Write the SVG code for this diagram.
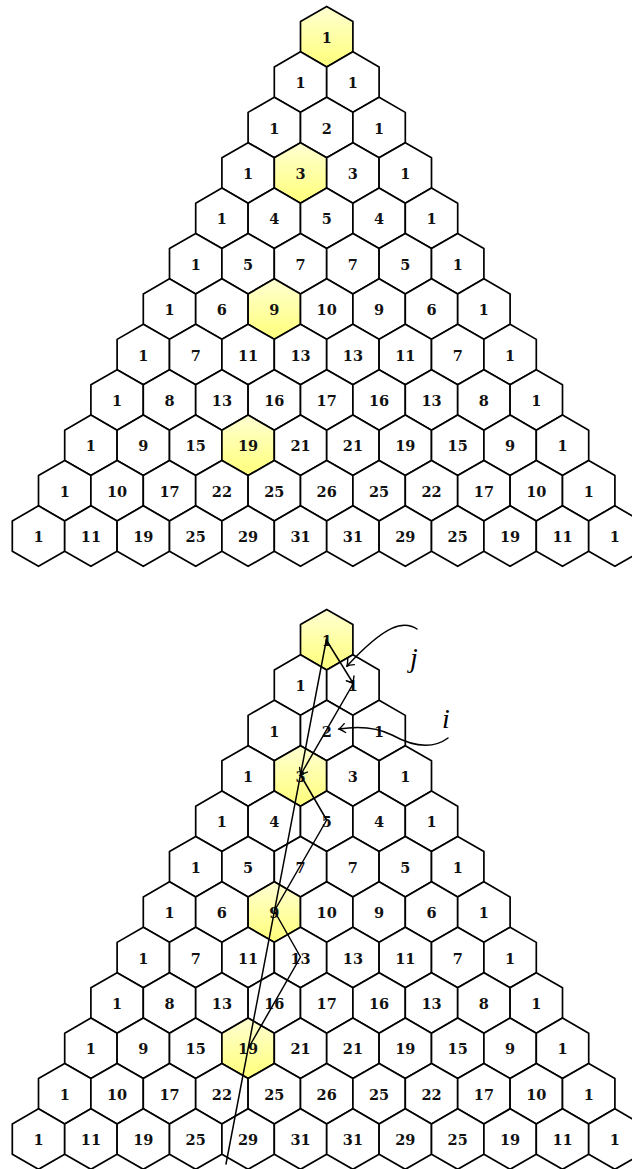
<svg xmlns="http://www.w3.org/2000/svg" xmlns:xlink="http://www.w3.org/1999/xlink" width="632" height="1169" viewBox="0 0 632 1169">
<style>
.c use{fill:#fff;stroke:#000;stroke-width:1.7;stroke-linejoin:round}
.c.y use{fill:url(#yg)}
.c text{font-family:"DejaVu Serif",serif;font-weight:bold;font-size:14.5px;text-anchor:middle;fill:#111}
.ln{fill:none;stroke:#000;stroke-width:1.5;stroke-linecap:round;stroke-linejoin:round}
.lbl{font-family:"Liberation Serif",serif;font-style:italic;font-size:28px;fill:#000}
</style>
<defs>
<path id="h" d="M0,-30.25L26.2,-15.12L26.2,15.12L0,30.25L-26.2,15.12L-26.2,-15.12Z"/>
<linearGradient id="yg" x1="0" y1="0" x2="0" y2="1">
<stop offset="0" stop-color="#ffffd2"/>
<stop offset="1" stop-color="#ffff7a"/>
</linearGradient>
<marker id="ah" viewBox="-8 -6 10 12" markerWidth="10" markerHeight="12" refX="0" refY="0" orient="auto" markerUnits="userSpaceOnUse">
<path d="M-6,-4.5Q-2,-1 0,0Q-2,1 -6,4.5" fill="none" stroke="#000" stroke-width="1.4" stroke-linecap="round"/>
</marker>
</defs>
<g id="top">
<g transform="translate(0,36.7)"><g id="t0-0" class="c y" transform="translate(326.7,0)"><use href="#h"/><text y="6">1</text></g></g>
<g transform="translate(0,82.1)"><g id="t1-0" class="c" transform="translate(300.5,0)"><use href="#h"/><text y="6">1</text></g><g id="t1-1" class="c" transform="translate(352.9,0)"><use href="#h"/><text y="6">1</text></g></g>
<g transform="translate(0,127.5)"><g id="t2-0" class="c" transform="translate(274.3,0)"><use href="#h"/><text y="6">1</text></g><g id="t2-1" class="c" transform="translate(326.7,0)"><use href="#h"/><text y="6">2</text></g><g id="t2-2" class="c" transform="translate(379.1,0)"><use href="#h"/><text y="6">1</text></g></g>
<g transform="translate(0,172.9)"><g id="t3-0" class="c" transform="translate(248.1,0)"><use href="#h"/><text y="6">1</text></g><g id="t3-1" class="c y" transform="translate(300.5,0)"><use href="#h"/><text y="6">3</text></g><g id="t3-2" class="c" transform="translate(352.9,0)"><use href="#h"/><text y="6">3</text></g><g id="t3-3" class="c" transform="translate(405.3,0)"><use href="#h"/><text y="6">1</text></g></g>
<g transform="translate(0,218.3)"><g id="t4-0" class="c" transform="translate(221.9,0)"><use href="#h"/><text y="6">1</text></g><g id="t4-1" class="c" transform="translate(274.3,0)"><use href="#h"/><text y="6">4</text></g><g id="t4-2" class="c" transform="translate(326.7,0)"><use href="#h"/><text y="6">5</text></g><g id="t4-3" class="c" transform="translate(379.1,0)"><use href="#h"/><text y="6">4</text></g><g id="t4-4" class="c" transform="translate(431.5,0)"><use href="#h"/><text y="6">1</text></g></g>
<g transform="translate(0,263.7)"><g id="t5-0" class="c" transform="translate(195.7,0)"><use href="#h"/><text y="6">1</text></g><g id="t5-1" class="c" transform="translate(248.1,0)"><use href="#h"/><text y="6">5</text></g><g id="t5-2" class="c" transform="translate(300.5,0)"><use href="#h"/><text y="6">7</text></g><g id="t5-3" class="c" transform="translate(352.9,0)"><use href="#h"/><text y="6">7</text></g><g id="t5-4" class="c" transform="translate(405.3,0)"><use href="#h"/><text y="6">5</text></g><g id="t5-5" class="c" transform="translate(457.7,0)"><use href="#h"/><text y="6">1</text></g></g>
<g transform="translate(0,309.1)"><g id="t6-0" class="c" transform="translate(169.5,0)"><use href="#h"/><text y="6">1</text></g><g id="t6-1" class="c" transform="translate(221.9,0)"><use href="#h"/><text y="6">6</text></g><g id="t6-2" class="c y" transform="translate(274.3,0)"><use href="#h"/><text y="6">9</text></g><g id="t6-3" class="c" transform="translate(326.7,0)"><use href="#h"/><text y="6">10</text></g><g id="t6-4" class="c" transform="translate(379.1,0)"><use href="#h"/><text y="6">9</text></g><g id="t6-5" class="c" transform="translate(431.5,0)"><use href="#h"/><text y="6">6</text></g><g id="t6-6" class="c" transform="translate(483.9,0)"><use href="#h"/><text y="6">1</text></g></g>
<g transform="translate(0,354.5)"><g id="t7-0" class="c" transform="translate(143.3,0)"><use href="#h"/><text y="6">1</text></g><g id="t7-1" class="c" transform="translate(195.7,0)"><use href="#h"/><text y="6">7</text></g><g id="t7-2" class="c" transform="translate(248.1,0)"><use href="#h"/><text y="6">11</text></g><g id="t7-3" class="c" transform="translate(300.5,0)"><use href="#h"/><text y="6">13</text></g><g id="t7-4" class="c" transform="translate(352.9,0)"><use href="#h"/><text y="6">13</text></g><g id="t7-5" class="c" transform="translate(405.3,0)"><use href="#h"/><text y="6">11</text></g><g id="t7-6" class="c" transform="translate(457.7,0)"><use href="#h"/><text y="6">7</text></g><g id="t7-7" class="c" transform="translate(510.1,0)"><use href="#h"/><text y="6">1</text></g></g>
<g transform="translate(0,399.9)"><g id="t8-0" class="c" transform="translate(117.1,0)"><use href="#h"/><text y="6">1</text></g><g id="t8-1" class="c" transform="translate(169.5,0)"><use href="#h"/><text y="6">8</text></g><g id="t8-2" class="c" transform="translate(221.9,0)"><use href="#h"/><text y="6">13</text></g><g id="t8-3" class="c" transform="translate(274.3,0)"><use href="#h"/><text y="6">16</text></g><g id="t8-4" class="c" transform="translate(326.7,0)"><use href="#h"/><text y="6">17</text></g><g id="t8-5" class="c" transform="translate(379.1,0)"><use href="#h"/><text y="6">16</text></g><g id="t8-6" class="c" transform="translate(431.5,0)"><use href="#h"/><text y="6">13</text></g><g id="t8-7" class="c" transform="translate(483.9,0)"><use href="#h"/><text y="6">8</text></g><g id="t8-8" class="c" transform="translate(536.3,0)"><use href="#h"/><text y="6">1</text></g></g>
<g transform="translate(0,445.3)"><g id="t9-0" class="c" transform="translate(90.9,0)"><use href="#h"/><text y="6">1</text></g><g id="t9-1" class="c" transform="translate(143.3,0)"><use href="#h"/><text y="6">9</text></g><g id="t9-2" class="c" transform="translate(195.7,0)"><use href="#h"/><text y="6">15</text></g><g id="t9-3" class="c y" transform="translate(248.1,0)"><use href="#h"/><text y="6">19</text></g><g id="t9-4" class="c" transform="translate(300.5,0)"><use href="#h"/><text y="6">21</text></g><g id="t9-5" class="c" transform="translate(352.9,0)"><use href="#h"/><text y="6">21</text></g><g id="t9-6" class="c" transform="translate(405.3,0)"><use href="#h"/><text y="6">19</text></g><g id="t9-7" class="c" transform="translate(457.7,0)"><use href="#h"/><text y="6">15</text></g><g id="t9-8" class="c" transform="translate(510.1,0)"><use href="#h"/><text y="6">9</text></g><g id="t9-9" class="c" transform="translate(562.5,0)"><use href="#h"/><text y="6">1</text></g></g>
<g transform="translate(0,490.7)"><g id="t10-0" class="c" transform="translate(64.7,0)"><use href="#h"/><text y="6">1</text></g><g id="t10-1" class="c" transform="translate(117.1,0)"><use href="#h"/><text y="6">10</text></g><g id="t10-2" class="c" transform="translate(169.5,0)"><use href="#h"/><text y="6">17</text></g><g id="t10-3" class="c" transform="translate(221.9,0)"><use href="#h"/><text y="6">22</text></g><g id="t10-4" class="c" transform="translate(274.3,0)"><use href="#h"/><text y="6">25</text></g><g id="t10-5" class="c" transform="translate(326.7,0)"><use href="#h"/><text y="6">26</text></g><g id="t10-6" class="c" transform="translate(379.1,0)"><use href="#h"/><text y="6">25</text></g><g id="t10-7" class="c" transform="translate(431.5,0)"><use href="#h"/><text y="6">22</text></g><g id="t10-8" class="c" transform="translate(483.9,0)"><use href="#h"/><text y="6">17</text></g><g id="t10-9" class="c" transform="translate(536.3,0)"><use href="#h"/><text y="6">10</text></g><g id="t10-10" class="c" transform="translate(588.7,0)"><use href="#h"/><text y="6">1</text></g></g>
<g transform="translate(0,536.1)"><g id="t11-0" class="c" transform="translate(38.5,0)"><use href="#h"/><text y="6">1</text></g><g id="t11-1" class="c" transform="translate(90.9,0)"><use href="#h"/><text y="6">11</text></g><g id="t11-2" class="c" transform="translate(143.3,0)"><use href="#h"/><text y="6">19</text></g><g id="t11-3" class="c" transform="translate(195.7,0)"><use href="#h"/><text y="6">25</text></g><g id="t11-4" class="c" transform="translate(248.1,0)"><use href="#h"/><text y="6">29</text></g><g id="t11-5" class="c" transform="translate(300.5,0)"><use href="#h"/><text y="6">31</text></g><g id="t11-6" class="c" transform="translate(352.9,0)"><use href="#h"/><text y="6">31</text></g><g id="t11-7" class="c" transform="translate(405.3,0)"><use href="#h"/><text y="6">29</text></g><g id="t11-8" class="c" transform="translate(457.7,0)"><use href="#h"/><text y="6">25</text></g><g id="t11-9" class="c" transform="translate(510.1,0)"><use href="#h"/><text y="6">19</text></g><g id="t11-10" class="c" transform="translate(562.5,0)"><use href="#h"/><text y="6">11</text></g><g id="t11-11" class="c" transform="translate(614.9,0)"><use href="#h"/><text y="6">1</text></g></g>
</g>
<g id="bottom">
<g transform="translate(0,639.7)"><g id="b0-0" class="c y" transform="translate(326.7,0)"><use href="#h"/><text y="6">1</text></g></g>
<g transform="translate(0,685.1)"><g id="b1-0" class="c" transform="translate(300.5,0)"><use href="#h"/><text y="6">1</text></g><g id="b1-1" class="c" transform="translate(352.9,0)"><use href="#h"/><text y="6">1</text></g></g>
<g transform="translate(0,730.5)"><g id="b2-0" class="c" transform="translate(274.3,0)"><use href="#h"/><text y="6">1</text></g><g id="b2-1" class="c" transform="translate(326.7,0)"><use href="#h"/><text y="6">2</text></g><g id="b2-2" class="c" transform="translate(379.1,0)"><use href="#h"/><text y="6">1</text></g></g>
<g transform="translate(0,775.9)"><g id="b3-0" class="c" transform="translate(248.1,0)"><use href="#h"/><text y="6">1</text></g><g id="b3-1" class="c y" transform="translate(300.5,0)"><use href="#h"/><text y="6">3</text></g><g id="b3-2" class="c" transform="translate(352.9,0)"><use href="#h"/><text y="6">3</text></g><g id="b3-3" class="c" transform="translate(405.3,0)"><use href="#h"/><text y="6">1</text></g></g>
<g transform="translate(0,821.3)"><g id="b4-0" class="c" transform="translate(221.9,0)"><use href="#h"/><text y="6">1</text></g><g id="b4-1" class="c" transform="translate(274.3,0)"><use href="#h"/><text y="6">4</text></g><g id="b4-2" class="c" transform="translate(326.7,0)"><use href="#h"/><text y="6">5</text></g><g id="b4-3" class="c" transform="translate(379.1,0)"><use href="#h"/><text y="6">4</text></g><g id="b4-4" class="c" transform="translate(431.5,0)"><use href="#h"/><text y="6">1</text></g></g>
<g transform="translate(0,866.7)"><g id="b5-0" class="c" transform="translate(195.7,0)"><use href="#h"/><text y="6">1</text></g><g id="b5-1" class="c" transform="translate(248.1,0)"><use href="#h"/><text y="6">5</text></g><g id="b5-2" class="c" transform="translate(300.5,0)"><use href="#h"/><text y="6">7</text></g><g id="b5-3" class="c" transform="translate(352.9,0)"><use href="#h"/><text y="6">7</text></g><g id="b5-4" class="c" transform="translate(405.3,0)"><use href="#h"/><text y="6">5</text></g><g id="b5-5" class="c" transform="translate(457.7,0)"><use href="#h"/><text y="6">1</text></g></g>
<g transform="translate(0,912.1)"><g id="b6-0" class="c" transform="translate(169.5,0)"><use href="#h"/><text y="6">1</text></g><g id="b6-1" class="c" transform="translate(221.9,0)"><use href="#h"/><text y="6">6</text></g><g id="b6-2" class="c y" transform="translate(274.3,0)"><use href="#h"/><text y="6">9</text></g><g id="b6-3" class="c" transform="translate(326.7,0)"><use href="#h"/><text y="6">10</text></g><g id="b6-4" class="c" transform="translate(379.1,0)"><use href="#h"/><text y="6">9</text></g><g id="b6-5" class="c" transform="translate(431.5,0)"><use href="#h"/><text y="6">6</text></g><g id="b6-6" class="c" transform="translate(483.9,0)"><use href="#h"/><text y="6">1</text></g></g>
<g transform="translate(0,957.5)"><g id="b7-0" class="c" transform="translate(143.3,0)"><use href="#h"/><text y="6">1</text></g><g id="b7-1" class="c" transform="translate(195.7,0)"><use href="#h"/><text y="6">7</text></g><g id="b7-2" class="c" transform="translate(248.1,0)"><use href="#h"/><text y="6">11</text></g><g id="b7-3" class="c" transform="translate(300.5,0)"><use href="#h"/><text y="6">13</text></g><g id="b7-4" class="c" transform="translate(352.9,0)"><use href="#h"/><text y="6">13</text></g><g id="b7-5" class="c" transform="translate(405.3,0)"><use href="#h"/><text y="6">11</text></g><g id="b7-6" class="c" transform="translate(457.7,0)"><use href="#h"/><text y="6">7</text></g><g id="b7-7" class="c" transform="translate(510.1,0)"><use href="#h"/><text y="6">1</text></g></g>
<g transform="translate(0,1002.9)"><g id="b8-0" class="c" transform="translate(117.1,0)"><use href="#h"/><text y="6">1</text></g><g id="b8-1" class="c" transform="translate(169.5,0)"><use href="#h"/><text y="6">8</text></g><g id="b8-2" class="c" transform="translate(221.9,0)"><use href="#h"/><text y="6">13</text></g><g id="b8-3" class="c" transform="translate(274.3,0)"><use href="#h"/><text y="6">16</text></g><g id="b8-4" class="c" transform="translate(326.7,0)"><use href="#h"/><text y="6">17</text></g><g id="b8-5" class="c" transform="translate(379.1,0)"><use href="#h"/><text y="6">16</text></g><g id="b8-6" class="c" transform="translate(431.5,0)"><use href="#h"/><text y="6">13</text></g><g id="b8-7" class="c" transform="translate(483.9,0)"><use href="#h"/><text y="6">8</text></g><g id="b8-8" class="c" transform="translate(536.3,0)"><use href="#h"/><text y="6">1</text></g></g>
<g transform="translate(0,1048.3)"><g id="b9-0" class="c" transform="translate(90.9,0)"><use href="#h"/><text y="6">1</text></g><g id="b9-1" class="c" transform="translate(143.3,0)"><use href="#h"/><text y="6">9</text></g><g id="b9-2" class="c" transform="translate(195.7,0)"><use href="#h"/><text y="6">15</text></g><g id="b9-3" class="c y" transform="translate(248.1,0)"><use href="#h"/><text y="6">19</text></g><g id="b9-4" class="c" transform="translate(300.5,0)"><use href="#h"/><text y="6">21</text></g><g id="b9-5" class="c" transform="translate(352.9,0)"><use href="#h"/><text y="6">21</text></g><g id="b9-6" class="c" transform="translate(405.3,0)"><use href="#h"/><text y="6">19</text></g><g id="b9-7" class="c" transform="translate(457.7,0)"><use href="#h"/><text y="6">15</text></g><g id="b9-8" class="c" transform="translate(510.1,0)"><use href="#h"/><text y="6">9</text></g><g id="b9-9" class="c" transform="translate(562.5,0)"><use href="#h"/><text y="6">1</text></g></g>
<g transform="translate(0,1093.7)"><g id="b10-0" class="c" transform="translate(64.7,0)"><use href="#h"/><text y="6">1</text></g><g id="b10-1" class="c" transform="translate(117.1,0)"><use href="#h"/><text y="6">10</text></g><g id="b10-2" class="c" transform="translate(169.5,0)"><use href="#h"/><text y="6">17</text></g><g id="b10-3" class="c" transform="translate(221.9,0)"><use href="#h"/><text y="6">22</text></g><g id="b10-4" class="c" transform="translate(274.3,0)"><use href="#h"/><text y="6">25</text></g><g id="b10-5" class="c" transform="translate(326.7,0)"><use href="#h"/><text y="6">26</text></g><g id="b10-6" class="c" transform="translate(379.1,0)"><use href="#h"/><text y="6">25</text></g><g id="b10-7" class="c" transform="translate(431.5,0)"><use href="#h"/><text y="6">22</text></g><g id="b10-8" class="c" transform="translate(483.9,0)"><use href="#h"/><text y="6">17</text></g><g id="b10-9" class="c" transform="translate(536.3,0)"><use href="#h"/><text y="6">10</text></g><g id="b10-10" class="c" transform="translate(588.7,0)"><use href="#h"/><text y="6">1</text></g></g>
<g transform="translate(0,1139.1)"><g id="b11-0" class="c" transform="translate(38.5,0)"><use href="#h"/><text y="6">1</text></g><g id="b11-1" class="c" transform="translate(90.9,0)"><use href="#h"/><text y="6">11</text></g><g id="b11-2" class="c" transform="translate(143.3,0)"><use href="#h"/><text y="6">19</text></g><g id="b11-3" class="c" transform="translate(195.7,0)"><use href="#h"/><text y="6">25</text></g><g id="b11-4" class="c" transform="translate(248.1,0)"><use href="#h"/><text y="6">29</text></g><g id="b11-5" class="c" transform="translate(300.5,0)"><use href="#h"/><text y="6">31</text></g><g id="b11-6" class="c" transform="translate(352.9,0)"><use href="#h"/><text y="6">31</text></g><g id="b11-7" class="c" transform="translate(405.3,0)"><use href="#h"/><text y="6">29</text></g><g id="b11-8" class="c" transform="translate(457.7,0)"><use href="#h"/><text y="6">25</text></g><g id="b11-9" class="c" transform="translate(510.1,0)"><use href="#h"/><text y="6">19</text></g><g id="b11-10" class="c" transform="translate(562.5,0)"><use href="#h"/><text y="6">11</text></g><g id="b11-11" class="c" transform="translate(614.9,0)"><use href="#h"/><text y="6">1</text></g></g>
</g>
<g id="connectors">
<path class="ln" d="M326.3,640L226,1164"/>
<path class="ln" d="M326.3,640L353.3,683.5" marker-end="url(#ah)"/>
<path class="ln" d="M353.3,683.5L300.5,775" marker-end="url(#ah)"/>
<path class="ln" d="M300.5,775L326.7,820L274.3,911L300.5,957L249,1047"/>
<path class="ln" d="M417,629C404,620 386,624 347,666" marker-end="url(#ah)"/>
<path class="ln" d="M448,738C432,750 412,746 392,735C376,727 358,726 339,729" marker-end="url(#ah)"/>
</g>
<g id="labels">
<text class="lbl" x="410" y="667">j</text>
<text class="lbl" x="442" y="728">i</text>
</g>
</svg>
